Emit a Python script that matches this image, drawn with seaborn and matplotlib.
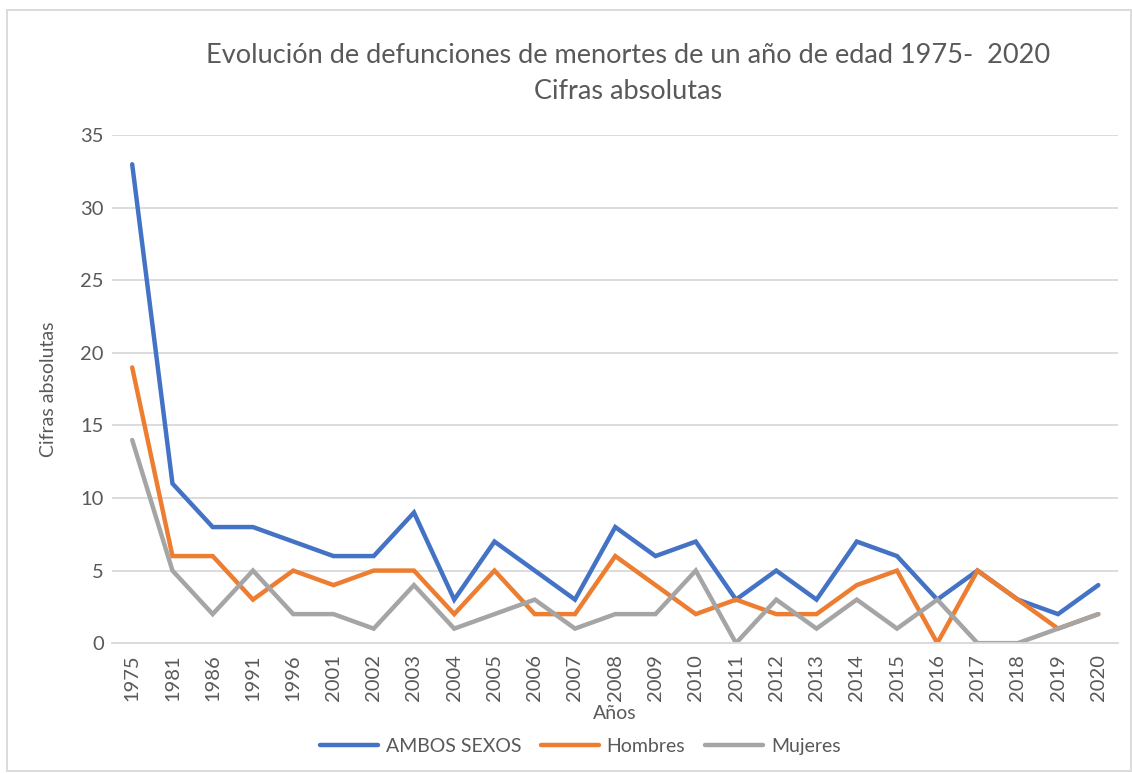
import pandas as pd
import matplotlib.pyplot as plt
import seaborn as sns
from matplotlib.patches import Rectangle

# Data
years = ['1975', '1981', '1986', '1991', '1996', '2001', '2002', '2003', '2004',
         '2005', '2006', '2007', '2008', '2009', '2010', '2011', '2012', '2013',
         '2014', '2015', '2016', '2017', '2018', '2019', '2020']
ambos = [33, 11, 8, 8, 7, 6, 6, 9, 3, 7, 5, 3, 8, 6, 7, 3, 5, 3, 7, 6, 3, 5, 3, 2, 4]
hombres = [19, 6, 6, 3, 5, 4, 5, 5, 2, 5, 2, 2, 6, 4, 2, 3, 2, 2, 4, 5, 0, 5, 3, 1, 2]
mujeres = [14, 5, 2, 5, 2, 2, 1, 4, 1, 2, 3, 1, 2, 2, 5, 0, 3, 1, 3, 1, 3, 0, 0, 1, 2]
series_names = ['AMBOS SEXOS', 'Hombres', 'Mujeres']
colors = ['#4472C4', '#ED7D31', '#A5A5A5']

df = pd.DataFrame({'Año': years, 'AMBOS SEXOS': ambos,
                   'Hombres': hombres, 'Mujeres': mujeres})
long_df = df.melt(id_vars='Año', var_name='Serie', value_name='Valor')

sns.set_style('white')
plt.rcParams['font.family'] = ['Lato', 'DejaVu Sans']
text_color = '#595959'

fig = plt.figure(figsize=(11.32, 7.73), dpi=100)
ax = fig.add_axes([0.099, 0.168, 0.889, 0.657])

sns.lineplot(data=long_df, x='Año', y='Valor', hue='Serie', hue_order=series_names,
             palette=colors, linewidth=3.2, sort=False, ax=ax,
             solid_capstyle='round', solid_joinstyle='miter')

ax.set_xlim(-0.5, len(years) - 0.5)
ax.set_ylim(0, 35)
ax.set_yticks(range(0, 36, 5))
ax.yaxis.grid(True, color='#D9D9D9', linewidth=1.3)
ax.set_axisbelow(True)
for side in ['top', 'right', 'left']:
    ax.spines[side].set_visible(False)
ax.spines['bottom'].set_color('#D9D9D9')
ax.spines['bottom'].set_linewidth(1.3)
ax.tick_params(axis='both', length=0, labelsize=14.5, colors=text_color, pad=6)
ax.tick_params(axis='x', rotation=90, pad=8)

ax.set_xlabel('Años', fontsize=14, color=text_color, labelpad=3)
ax.set_ylabel('Cifras absolutas', fontsize=14, color=text_color, labelpad=17)

fig.text(0.555, 0.928, 'Evolución de defunciones de menortes de un año de edad 1975-  2020',
         ha='center', va='center', fontsize=19.5, color=text_color)
fig.text(0.555, 0.881, 'Cifras absolutas', ha='center', va='center',
         fontsize=19.5, color=text_color)

handles, labels = ax.get_legend_handles_labels()
ax.legend(handles, labels, loc='center', bbox_to_anchor=(0.465, -0.203), ncol=3,
          frameon=False, fontsize=14, labelcolor=text_color, handlelength=3,
          handletextpad=0.4, columnspacing=1.0)

# outer chart frame
fig.patches.append(Rectangle((7 / 1132, 0.002), 1 - 8 / 1132, 1 - 12 / 773,
                             transform=fig.transFigure, fill=False,
                             edgecolor='#D9D9D9', linewidth=1.3))

fig.savefig('out.png', dpi=100)
